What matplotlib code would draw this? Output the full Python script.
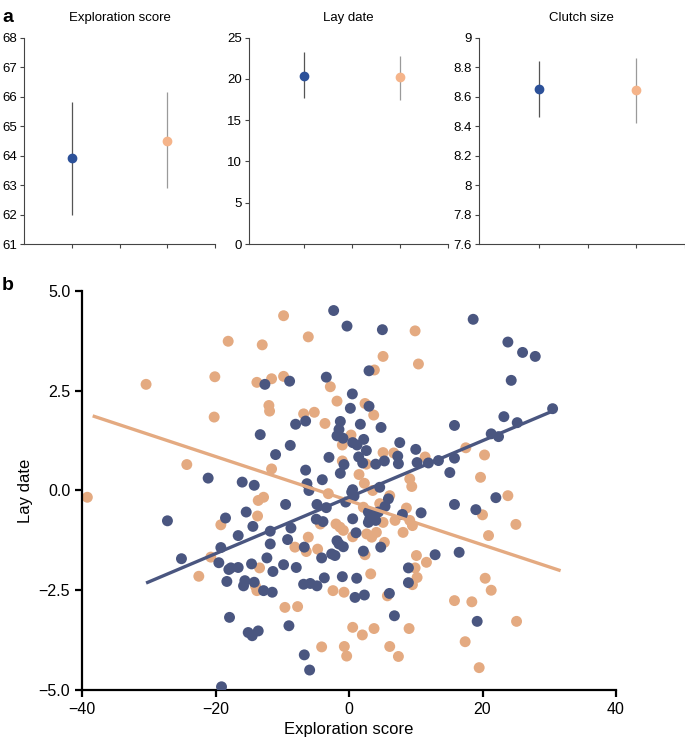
import numpy as np
import matplotlib.pyplot as plt
from matplotlib.ticker import FormatStrFormatter, FuncFormatter

plt.rcParams['font.family'] = ['Liberation Sans', 'DejaVu Sans']

# ---- panel a: means with error bars (blue group, orange group)
titles = ['Exploration score', 'Lay date', 'Clutch size']
a_means = [[63.9, 64.5], [20.4, 20.2], [8.65, 8.645]]
a_low = [[62.0, 62.9], [17.7, 17.5], [8.46, 8.42]]
a_high = [[65.8, 66.15], [23.3, 22.8], [8.84, 8.86]]
a_ylims = [(61, 68), (0, 25), (7.6, 9.0)]
a_yticks = [np.arange(61, 69, 1), np.arange(0, 26, 5), np.arange(7.6, 9.01, 0.2)]

# ---- panel b: exploration score vs lay date
blue_x = [-21.1, -2.3, -0.3, 5.0, 3.0, -3.4, -12.6, -8.9, 0.5, 0.2, 3.0, -6.5, -8.0, -1.3, 1.7,
          4.8, -1.5, -1.8, -0.9, 2.2, 0.55, 1.2, 7.6, -13.3, -8.8, -11.0, -3.0, 2.6, 7.3, 10.0,
          1.45, 2.05, 4.0, 5.3, -0.75, -1.3, -6.5, -16.0, -14.2, -6.3, -4.0, 10.2, 0.55,
          18.6, 23.8, 26.0, 27.9, 24.3, 30.5, 23.2, 25.2, 15.8, 21.3, 22.4, 11.9, 13.4, 15.8, 15.1,
          -27.2, -18.5, -25.1, -19.2, -19.5, -18.0, -18.3, -17.9, -19.1,
          -6.0, 0.4, 0.75, -9.5, -4.8, -3.4, -0.5, 5.9, 2.9, 3.65, 4.4, 3.1, 8.0, 10.8, -15.4,
          -14.4, -11.8, -8.7, -16.6, -11.8, -9.2, -6.7, -4.1, -2.6, -2.1, -1.8, -1.5, -0.85, 0.55,
          1.05, 4.75, 2.15, -17.7, -16.6, -14.6, -12.3, -11.4, -9.8, -7.9, -15.6, -14.2, -15.8,
          -12.8, -11.5, -6.8, -5.8, -4.8, -3.7, -1.0, 1.15, 0.9, 2.3, 6.05, 8.9, 8.9, -15.1,
          -14.5, -13.6, -9.0, 6.8, -6.7, -5.9,
          15.8, 19.0, 22.0, 12.9, 16.5, 19.2,
          7.4, -4.9, -3.9, 4.6, 5.4, 4.0, 2.9]
blue_y = [0.31, 4.51, 4.12, 4.03, 3.0, 2.84, 2.66, 2.74, 2.42, 2.06, 2.11, 1.74, 1.66, 1.73, 1.66,
          1.58, 1.53, 1.37, 1.31, 1.28, 1.2, 1.14, 1.2, 1.4, 1.13, 0.9, 0.83, 1.0, 0.86, 1.03,
          0.84, 0.69, 0.66, 0.74, 0.65, 0.43, 0.51, 0.21, 0.13, 0.17, 0.27, 0.7, 0.02,
          4.29, 3.72, 3.46, 3.36, 2.76, 2.05, 1.85, 1.7, 1.63, 1.42, 1.35, 0.69, 0.75, 0.81, 0.45,
          -0.76, -0.69, -1.71, -1.43, -1.81, -1.98, -2.28, -3.18, -4.92,
          0.0, -0.04, -0.14, -0.35, -0.35, -0.43, -0.29, -0.21, -0.54, -0.59, -0.54, -0.71, -0.6,
          -0.56, -0.54, -0.9, -1.02, -0.94, -1.13, -1.34, -1.23, -1.42, -1.69, -1.59, -1.63, -1.26,
          -1.34, -1.41, -0.71, -1.06, -1.42, -1.52, -1.94, -1.93, -1.84, -1.69, -2.03, -1.86, -1.93,
          -2.26, -2.3, -2.39, -2.51, -2.55, -2.35, -2.33, -2.39, -2.19, -2.16, -2.2, -2.68, -2.62,
          -2.58, -1.94, -2.31, -3.56, -3.64, -3.52, -3.39, -3.14, -4.12, -4.5,
          -0.35, -0.48, -0.18, -1.61, -1.55, -3.28,
          0.67, -0.72, -0.78, 0.08, -0.4, -0.75, -0.8]

orange_x = [-30.4, -18.1, -20.1, -20.2, -24.3,
            -9.8, 9.9, -13.0, -6.1, 5.1, 10.4, 3.8, -2.8, -13.8, -11.6, -9.8, -1.8, 2.4, 3.7,
            -12.0, -11.9, -6.8, -5.2, -3.6, 0.3, -1.0, 5.1, 6.7, 2.6, -1.0, 1.5, -11.6, 9.1, 2.3,
            17.5, 20.3, 11.4, 19.7,
            -39.2, -19.2, -20.7, -22.5,
            -3.1, -12.8, -13.6, 6.1, 5.0, 5.1, 6.9, 9.1, 9.5, 8.1, -13.7, -6.1, -8.1, -6.4, -4.7,
            -1.95, -1.35, -0.85, 0.55, 2.65, 3.4, 4.1, 5.3, 2.4, 10.1, -13.4, -14.0, -13.8, -2.4,
            -0.75, 3.25, 5.75, 9.5, -9.6, -7.7, 0.55, 2.0, 3.75, 9.0, -4.1, -0.7, -0.35, 6.1, 7.4,
            23.8, 20.0, 25.0, 20.9, 11.6, 9.9, 10.2, 20.4, 21.3, 15.8, 18.4, 25.1, 17.4, 19.5,
            -4.3, 3.55, 9.4, 2.15, 4.6, 8.6]
orange_y = [2.66, 3.74, 2.85, 1.84, 0.65,
            4.38, 4.0, 3.65, 3.85, 3.36, 3.17, 3.02, 2.6, 2.71, 2.8, 2.86, 2.24, 2.18, 1.89,
            2.13, 1.99, 1.92, 1.96, 1.68, 1.39, 1.14, 0.95, 0.94, 0.66, 0.74, 0.4, 0.54, 0.29, 0.18,
            1.07, 0.89, 0.84, 0.33,
            -0.17, -0.86, -1.67, -2.15,
            -0.08, -0.17, -0.25, -0.13, -0.42, -0.8, -0.75, -0.75, -0.88, -1.05, -0.64, -1.17, -1.42,
            -1.53, -1.47, -0.84, -0.92, -1.0, -1.16, -1.09, -1.17, -1.05, -1.3, -1.61, -1.63, -1.94,
            -2.4, -2.51, -2.51, -2.55, -2.09, -2.64, -2.36, -2.93, -2.91, -3.43, -3.62, -3.46, -3.46,
            -3.92, -3.91, -4.15, -3.91, -4.16,
            -0.13, -0.61, -0.85, -1.13, -1.8, -1.94, -2.18, -2.2, -2.5, -2.76, -2.79, -3.28, -3.79,
            -4.44,
            -0.84, 0.0, 0.1, -0.42, -0.33, -0.44]

# fitted lines (end points)
blue_fit_x = [-30.4, 30.5]
blue_fit_y = [-2.32, 1.99]
orange_fit_x = [-38.4, 31.7]
orange_fit_y = [1.87, -2.01]

a_blue, a_orange = '#2c5199', '#f5b48a'
b_blue, b_orange = '#4a5680', '#e4aa81'

fig = plt.figure(figsize=(6.85, 7.44), dpi=100)

# panel a axes: [left, bottom, width, height] in figure fractions
a_pos = [[0.035, 0.672, 0.279, 0.2775],
         [0.3635, 0.672, 0.291, 0.2775],
         [0.699, 0.672, 0.301, 0.2775]]
a_xlims = [(0, 4), (-0.15, 4), (-0.25, 4)]

for i in range(3):
    ax = fig.add_axes(a_pos[i])
    ax.errorbar([1], [a_means[i][0]],
                yerr=[[a_means[i][0] - a_low[i][0]], [a_high[i][0] - a_means[i][0]]],
                fmt='o', color=a_blue, ecolor='#555555', elinewidth=0.9, ms=6, capsize=0)
    ax.errorbar([3], [a_means[i][1]],
                yerr=[[a_means[i][1] - a_low[i][1]], [a_high[i][1] - a_means[i][1]]],
                fmt='o', color=a_orange, ecolor='#9a9a9a', elinewidth=0.9, ms=6, capsize=0)
    ax.set_xlim(*a_xlims[i])
    ax.set_ylim(*a_ylims[i])
    ax.set_yticks(a_yticks[i])
    ax.yaxis.set_major_formatter(FormatStrFormatter('%g'))
    ax.set_xticks([1, 2, 3, 4])
    ax.set_xticklabels([])
    ax.set_title(titles[i], fontsize=9.5, pad=12)
    for s in ['top', 'right']:
        ax.spines[s].set_visible(False)
    for s in ['left', 'bottom']:
        ax.spines[s].set_color('#444444')
        ax.spines[s].set_linewidth(0.8)
    ax.tick_params(labelsize=9.5, length=3, width=0.8, color='#444444', pad=2)

# panel b
ax = fig.add_axes([0.1197, 0.0726, 0.7796, 0.5363])
ax.scatter(orange_x, orange_y, s=62, color=b_orange, edgecolors='none', zorder=2)
ax.scatter(blue_x, blue_y, s=62, color=b_blue, edgecolors='none', zorder=3)
ax.plot(orange_fit_x, orange_fit_y, color=b_orange, lw=2.4, zorder=4, solid_capstyle='butt')
ax.plot(blue_fit_x, blue_fit_y, color=b_blue, lw=2.4, zorder=4, solid_capstyle='butt')
ax.set_xlim(-40, 40)
ax.set_ylim(-5, 5)
ax.set_xticks([-40, -20, 0, 20, 40])
ax.set_yticks([-5.0, -2.5, 0.0, 2.5, 5.0])
ax.yaxis.set_major_formatter(FuncFormatter(lambda v, p: f'{v:.1f}'.replace('-', '\u2212')))
ax.set_xlabel('Exploration score', fontsize=12)
ax.set_ylabel('Lay date', fontsize=12)
for s in ['top', 'right']:
    ax.spines[s].set_visible(False)
for s in ['left', 'bottom']:
    ax.spines[s].set_linewidth(1.6)
ax.tick_params(labelsize=11.5, length=5, width=1.6)

fig.text(0.003, 0.988, 'a', fontsize=14, fontweight='bold', va='top')
fig.text(0.003, 0.628, 'b', fontsize=14, fontweight='bold', va='top')

fig.savefig('out.png', dpi=100)
